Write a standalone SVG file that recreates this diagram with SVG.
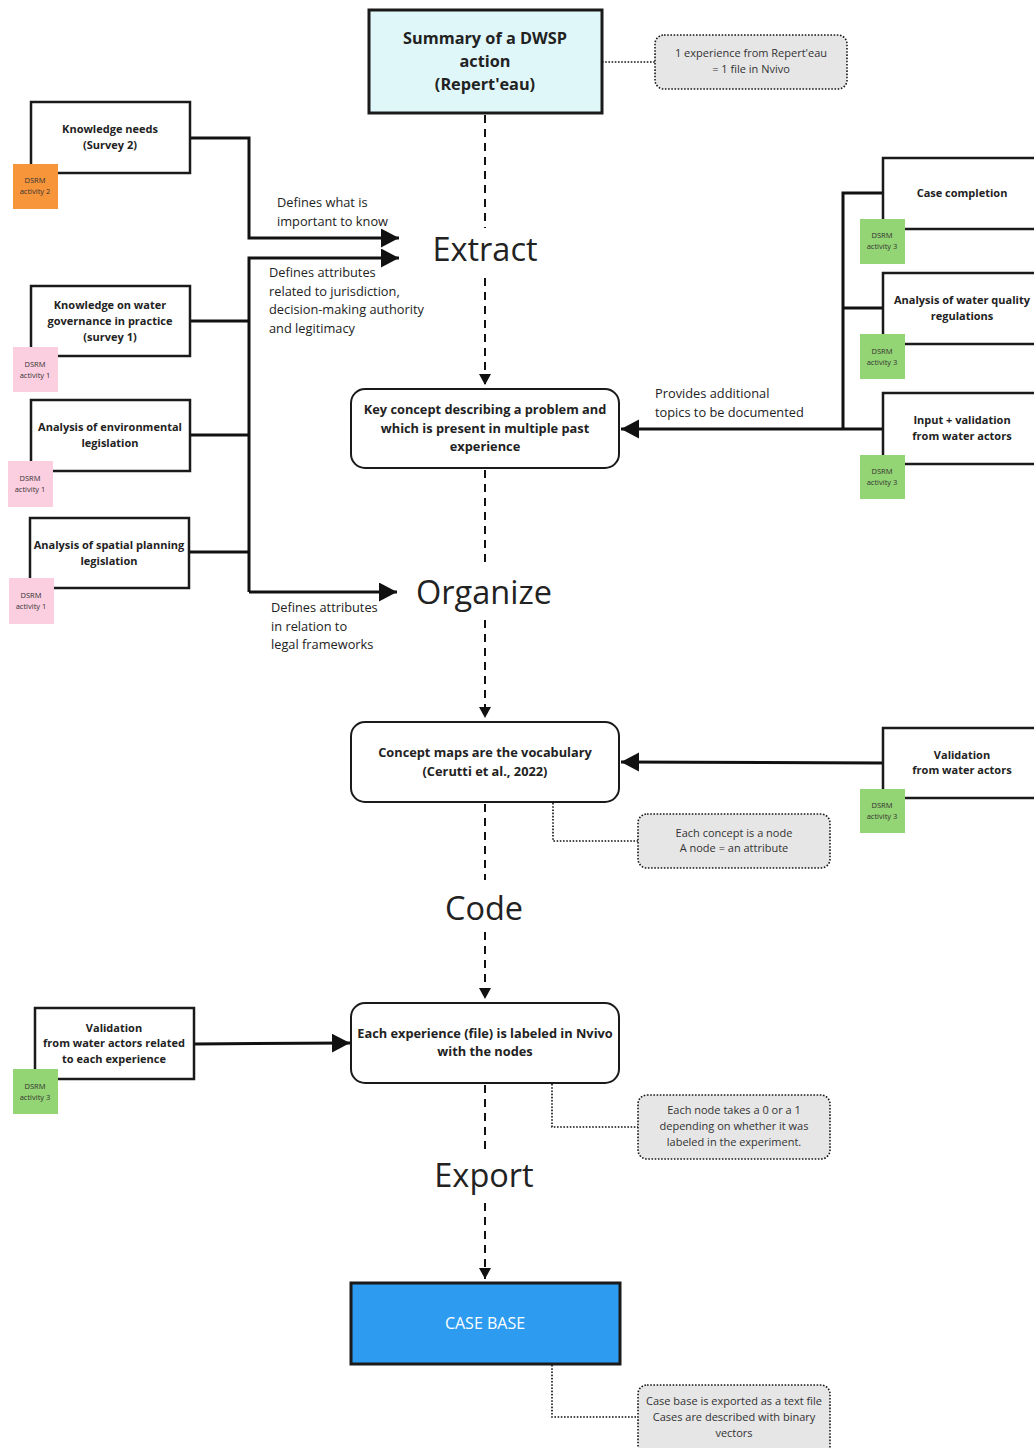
<svg xmlns="http://www.w3.org/2000/svg" width="1034" height="1448" viewBox="0 0 1034 1448">
  <style>
    text { font-family: "Open Sans", "Noto Sans", "DejaVu Sans", sans-serif; fill: #222; }
    .box { fill: #ffffff; stroke: #1a1a1a; stroke-width: 2.5; }
    .rbox { fill: #ffffff; stroke: #1a1a1a; stroke-width: 2; }
    .note { fill: #e6e6e6; stroke: #1a1a1a; stroke-width: 1.6; stroke-dasharray: 1.6 1.6; }
    .lbl { font-size: 11px; font-weight: 700; text-anchor: middle; }
    .big { font-size: 12.8px; font-weight: 700; text-anchor: middle; }
    .ntxt { font-size: 11px; text-anchor: middle; fill: #333; }
    .edge { font-size: 12.8px; fill: #222; }
    .stage { font-size: 32.5px; text-anchor: middle; fill: #222; }
    .tag { font-size: 7.5px; text-anchor: middle; fill: #333; }
    .pink { fill: #fccfe0; }
    .green { fill: #93d574; }
    .orange { fill: #f7953b; }
    .solid { fill: none; stroke: #111; stroke-width: 3; }
    .dash { fill: none; stroke: #111; stroke-width: 2; stroke-dasharray: 8 6; }
    .dot { fill: none; stroke: #111; stroke-width: 1.6; stroke-dasharray: 1.6 1.6; }
  </style>
  <defs>
    <marker id="bigArrow" markerUnits="userSpaceOnUse" markerWidth="20" markerHeight="20" refX="18" refY="9.5" orient="auto">
      <path d="M0,0 L18,9.5 L0,19 z" fill="#111"/>
    </marker>
    <marker id="smallArrow" markerUnits="userSpaceOnUse" markerWidth="12" markerHeight="14" refX="11" refY="6" orient="auto">
      <path d="M0,0 L11,6 L0,12 z" fill="#111"/>
    </marker>
  </defs>

  <!-- connectors -->
  <g id="connectors">
    <!-- main dashed spine -->
    <path class="dash" d="M485,115 V228"/>
    <path class="dash" d="M485,278 V385" marker-end="url(#smallArrow)"/>
    <path class="dash" d="M485,470 V568"/>
    <path class="dash" d="M485,620 V718" marker-end="url(#smallArrow)"/>
    <path class="dash" d="M485,804 V880"/>
    <path class="dash" d="M485,932 V999" marker-end="url(#smallArrow)"/>
    <path class="dash" d="M485,1085 V1150"/>
    <path class="dash" d="M485,1203 V1279" marker-end="url(#smallArrow)"/>

    <!-- left inputs -->
    <path class="solid" d="M190,138 H249 V238 H399" marker-end="url(#bigArrow)"/>
    <path class="solid" d="M249,592 V258 H399" marker-end="url(#bigArrow)"/>
    <path class="solid" d="M249,592 H397" marker-end="url(#bigArrow)"/>
    <path class="solid" d="M190,321 H249"/>
    <path class="solid" d="M190,435 H249"/>
    <path class="solid" d="M189,552 H249"/>

    <!-- right inputs -->
    <path class="solid" d="M883,193 H843 V429"/>
    <path class="solid" d="M883,308 H843"/>
    <path class="solid" d="M883,429 H621" marker-end="url(#bigArrow)"/>
    <path class="solid" d="M883,763 L621,762" marker-end="url(#bigArrow)"/>
    <path class="solid" d="M194,1044 L350,1043" marker-end="url(#bigArrow)"/>

    <!-- note links -->
    <path class="dot" d="M602,62 H655"/>
    <path class="dot" d="M553,803 V841 H638"/>
    <path class="dot" d="M552,1084 V1127 H638"/>
    <path class="dot" d="M552,1365 V1417 H638"/>

    <!-- connector labels -->
    <text class="edge" x="277" y="207">Defines what is</text>
    <text class="edge" x="277" y="226">important to know</text>
    <text class="edge" x="269" y="277">Defines attributes</text>
    <text class="edge" x="269" y="296">related to jurisdiction,</text>
    <text class="edge" x="269" y="314">decision-making authority</text>
    <text class="edge" x="269" y="333">and legitimacy</text>
    <text class="edge" x="271" y="612">Defines attributes</text>
    <text class="edge" x="271" y="631">in relation to</text>
    <text class="edge" x="271" y="649">legal frameworks</text>
    <text class="edge" x="655" y="398">Provides additional</text>
    <text class="edge" x="655" y="417">topics to be documented</text>
  </g>

  <!-- stage labels -->
  <g id="stages">
    <text class="stage" x="485" y="261">Extract</text>
    <text class="stage" x="484" y="604">Organize</text>
    <text class="stage" x="484" y="920">Code</text>
    <text class="stage" x="484" y="1187">Export</text>
  </g>

  <!-- central flow -->
  <g id="summary">
    <rect x="369" y="10" width="233" height="103" fill="#e0f7f9" stroke="#1a1a1a" stroke-width="3"/>
    <text x="485" y="44" font-size="16.3" font-weight="700" text-anchor="middle">Summary of a DWSP</text>
    <text x="485" y="67" font-size="16.3" font-weight="700" text-anchor="middle">action</text>
    <text x="485" y="90" font-size="16.3" font-weight="700" text-anchor="middle">(Repert'eau)</text>
  </g>

  <g id="key-concept">
    <rect class="rbox" x="351" y="389" width="268" height="79" rx="14"/>
    <text class="big" x="485" y="414">Key concept describing a problem and</text>
    <text class="big" x="485" y="433">which is present in multiple past</text>
    <text class="big" x="485" y="451">experience</text>
  </g>

  <g id="concept-maps">
    <rect class="rbox" x="351" y="722" width="268" height="80" rx="14"/>
    <text class="big" x="485" y="757">Concept maps are the vocabulary</text>
    <text class="big" x="485" y="776">(Cerutti et al., 2022)</text>
  </g>

  <g id="labeling">
    <rect class="rbox" x="351" y="1003" width="268" height="80" rx="14"/>
    <text class="big" x="485" y="1038">Each experience (file) is labeled in Nvivo</text>
    <text class="big" x="485" y="1056">with the nodes</text>
  </g>

  <g id="case-base">
    <rect x="351" y="1283" width="269" height="81" fill="#2d9bf0" stroke="#1a1a1a" stroke-width="3"/>
    <text x="485" y="1329" font-size="16" text-anchor="middle" style="fill:#ffffff">CASE BASE</text>
  </g>

  <!-- notes -->
  <g id="note-file">
    <rect class="note" x="655" y="35" width="192" height="54" rx="9"/>
    <text class="ntxt" x="751" y="57">1 experience from Repert'eau</text>
    <text class="ntxt" x="751" y="73">= 1 file in Nvivo</text>
  </g>
  <g id="note-node">
    <rect class="note" x="638" y="814" width="192" height="54" rx="9"/>
    <text class="ntxt" x="734" y="837">Each concept is a node</text>
    <text class="ntxt" x="734" y="852">A node = an attribute</text>
  </g>
  <g id="note-binary">
    <rect class="note" x="638" y="1095" width="192" height="64" rx="9"/>
    <text class="ntxt" x="734" y="1114">Each node takes a 0 or a 1</text>
    <text class="ntxt" x="734" y="1130">depending on whether it was</text>
    <text class="ntxt" x="734" y="1146">labeled in the experiment.</text>
  </g>
  <g id="note-export">
    <rect class="note" x="638" y="1385" width="192" height="70" rx="9"/>
    <text class="ntxt" x="734" y="1405">Case base is exported as a text file</text>
    <text class="ntxt" x="734" y="1421">Cases are described with binary</text>
    <text class="ntxt" x="734" y="1437">vectors</text>
  </g>

  <!-- left sources -->
  <g id="knowledge-needs">
    <rect class="box" x="31" y="102" width="159" height="71"/>
    <text class="lbl" x="110" y="133">Knowledge needs</text>
    <text class="lbl" x="110" y="149">(Survey 2)</text>
    <rect class="orange" x="13" y="164" width="45" height="45"/>
    <text class="tag" x="35" y="183">DSRM</text>
    <text class="tag" x="35" y="194">activity 2</text>
  </g>

  <g id="governance-practice">
    <rect class="box" x="31" y="286" width="159" height="70"/>
    <text class="lbl" x="110" y="309">Knowledge on water</text>
    <text class="lbl" x="110" y="325">governance in practice</text>
    <text class="lbl" x="110" y="341">(survey 1)</text>
    <rect class="pink" x="13" y="347" width="45" height="45"/>
    <text class="tag" x="35" y="367">DSRM</text>
    <text class="tag" x="35" y="378">activity 1</text>
  </g>

  <g id="environmental-legislation">
    <rect class="box" x="31" y="400" width="159" height="71"/>
    <text class="lbl" x="110" y="431">Analysis of environmental</text>
    <text class="lbl" x="110" y="447">legislation</text>
    <rect class="pink" x="8" y="461" width="45" height="46"/>
    <text class="tag" x="30" y="481">DSRM</text>
    <text class="tag" x="30" y="492">activity 1</text>
  </g>

  <g id="spatial-legislation">
    <rect class="box" x="30" y="518" width="159" height="70"/>
    <text class="lbl" x="109" y="549">Analysis of spatial planning</text>
    <text class="lbl" x="109" y="565">legislation</text>
    <rect class="pink" x="9" y="578" width="45" height="46"/>
    <text class="tag" x="31" y="598">DSRM</text>
    <text class="tag" x="31" y="609">activity 1</text>
  </g>

  <g id="validation-experience">
    <rect class="box" x="35" y="1008" width="159" height="71"/>
    <text class="lbl" x="114" y="1032">Validation</text>
    <text class="lbl" x="114" y="1047">from water actors related</text>
    <text class="lbl" x="114" y="1063">to each experience</text>
    <rect class="green" x="13" y="1069" width="45" height="45"/>
    <text class="tag" x="35" y="1089">DSRM</text>
    <text class="tag" x="35" y="1100">activity 3</text>
  </g>

  <!-- right sources -->
  <g id="case-completion">
    <rect class="box" x="883" y="158" width="158" height="71"/>
    <text class="lbl" x="962" y="197">Case completion</text>
    <rect class="green" x="860" y="219" width="45" height="45"/>
    <text class="tag" x="882" y="238">DSRM</text>
    <text class="tag" x="882" y="249">activity 3</text>
  </g>

  <g id="water-quality">
    <rect class="box" x="883" y="273" width="158" height="71"/>
    <text class="lbl" x="962" y="304">Analysis of water quality</text>
    <text class="lbl" x="962" y="320">regulations</text>
    <rect class="green" x="860" y="334" width="45" height="45"/>
    <text class="tag" x="882" y="354">DSRM</text>
    <text class="tag" x="882" y="365">activity 3</text>
  </g>

  <g id="input-validation">
    <rect class="box" x="883" y="393" width="158" height="71"/>
    <text class="lbl" x="962" y="424">Input + validation</text>
    <text class="lbl" x="962" y="440">from water actors</text>
    <rect class="green" x="860" y="455" width="45" height="44"/>
    <text class="tag" x="882" y="474">DSRM</text>
    <text class="tag" x="882" y="485">activity 3</text>
  </g>

  <g id="validation-actors">
    <rect class="box" x="883" y="728" width="158" height="70"/>
    <text class="lbl" x="962" y="759">Validation</text>
    <text class="lbl" x="962" y="774">from water actors</text>
    <rect class="green" x="860" y="789" width="45" height="44"/>
    <text class="tag" x="882" y="808">DSRM</text>
    <text class="tag" x="882" y="819">activity 3</text>
  </g>
</svg>
